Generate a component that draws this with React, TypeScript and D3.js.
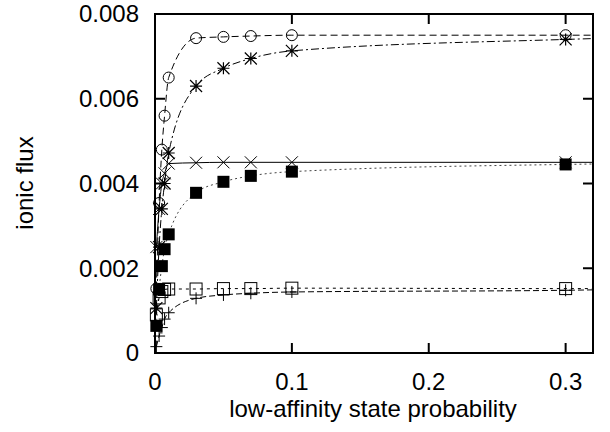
import React from "react";
import * as d3 from "d3";

const W = 610;
const H = 432;
const M = { left: 155, right: 593, top: 14, bottom: 353 };

const xValues = [0.001, 0.003, 0.005, 0.007, 0.01, 0.03, 0.05, 0.07, 0.1, 0.3];
const circleSeries = [0.00152, 0.00354, 0.0048, 0.0056, 0.0065, 0.00743, 0.00746, 0.00748, 0.0075, 0.0075];
const starSeries = [0.00106, 0.0025, 0.0034, 0.004, 0.00472, 0.0063, 0.00672, 0.00695, 0.00713, 0.0074];
const crossSeries = [0.0025, 0.0034, 0.004, 0.00424, 0.00447, 0.00449, 0.0045, 0.0045, 0.0045, 0.0045];
const filledSquareSeries = [0.00064, 0.0015, 0.00205, 0.00245, 0.0028, 0.00378, 0.00404, 0.00418, 0.00428, 0.00445];
const openSquareSeries = [0.0009, 0.0013, 0.00145, 0.0015, 0.00151, 0.00151, 0.00152, 0.00152, 0.00153, 0.00152];
const plusSeries = [0.00015, 0.0004, 0.0006, 0.0008, 0.00095, 0.00129, 0.00137, 0.00141, 0.00144, 0.00148];

// curve end values at the right edge of the frame
const curveEndX = 0.32;
const curveEnds = [0.0075, 0.00742, 0.0045, 0.00446, 0.00152, 0.00149];

const xTicks = [0, 0.1, 0.2, 0.3];
const xTickLabels = ["0", "0.1", "0.2", "0.3"];
const yTicks = [0, 0.002, 0.004, 0.006, 0.008];
const yTickLabels = ["0", "0.002", "0.004", "0.006", "0.008"];

const xScale = d3.scaleLinear().domain([0, 0.32]).range([M.left, M.right]);
const yScale = d3.scaleLinear().domain([0, 0.008]).range([M.bottom, M.top]);

type Marker = "circle" | "star" | "cross" | "fsquare" | "osquare" | "plus";

const seriesDefs: { values: number[]; marker: Marker; dash: string; color: string }[] = [
  { values: circleSeries, marker: "circle", dash: "7,4", color: "#000" },
  { values: starSeries, marker: "star", dash: "8,3,2,3", color: "#000" },
  { values: crossSeries, marker: "cross", dash: "", color: "#000" },
  { values: filledSquareSeries, marker: "fsquare", dash: "2,3", color: "#444" },
  { values: openSquareSeries, marker: "osquare", dash: "3,4", color: "#000" },
  { values: plusSeries, marker: "plus", dash: "6,3", color: "#000" },
];

const font = "'Liberation Sans', Arial, sans-serif";

function MarkerShape({ type, x, y }: { type: Marker; x: number; y: number }) {
  const s = 6;
  const sw = 1;
  switch (type) {
    case "circle":
      return <circle cx={x} cy={y} r={5.5} fill="none" stroke="#000" strokeWidth={sw} />;
    case "fsquare":
      return <rect x={x - 6} y={y - 6} width={12} height={12} fill="#000" />;
    case "osquare":
      return <rect x={x - 6} y={y - 6} width={12} height={12} fill="none" stroke="#000" strokeWidth={sw} />;
    case "cross":
      return (
        <path d={`M${x - s},${y - s}L${x + s},${y + s}M${x - s},${y + s}L${x + s},${y - s}`} stroke="#000" strokeWidth={sw} />
      );
    case "plus":
      return <path d={`M${x - s},${y}L${x + s},${y}M${x},${y - s}L${x},${y + s}`} stroke="#000" strokeWidth={sw} />;
    case "star":
      return (
        <path
          d={`M${x - s},${y}L${x + s},${y}M${x},${y - s}L${x},${y + s}M${x - s},${y - s}L${x + s},${y + s}M${x - s},${y + s}L${x + s},${y - s}`}
          stroke="#000"
          strokeWidth={1.2}
        />
      );
  }
  return null;
}

export default function App() {
  const line = d3
    .line<[number, number]>()
    .x((d) => xScale(d[0]))
    .y((d) => yScale(d[1]))
    .curve(d3.curveMonotoneX);

  const tickLen = 10;

  return (
    <svg width={W} height={H} style={{ position: "absolute", left: 0, top: 0 }} fontFamily={font}>
      <rect width={W} height={H} fill="#fff" />
      {seriesDefs.map((s, i) => {
        const pts: [number, number][] = xValues.map((x, j) => [x, s.values[j]]);
        pts.push([curveEndX, curveEnds[i]]);
        return (
          <path
            key={"l" + i}
            d={line(pts) || ""}
            fill="none"
            stroke={s.color}
            strokeWidth={1}
            strokeDasharray={s.dash || undefined}
          />
        );
      })}
      {seriesDefs.map((s, i) =>
        xValues.map((x, j) => (
          <MarkerShape key={`m${i}-${j}`} type={s.marker} x={xScale(x)} y={yScale(s.values[j])} />
        ))
      )}
      <rect
        x={M.left}
        y={M.top}
        width={M.right - M.left}
        height={M.bottom - M.top}
        fill="none"
        stroke="#000"
        strokeWidth={2}
      />
      {xTicks.map((t, i) => (
        <g key={"xt" + i}>
          <line x1={xScale(t)} x2={xScale(t)} y1={M.bottom} y2={M.bottom - tickLen} stroke="#000" strokeWidth={2} />
          <line x1={xScale(t)} x2={xScale(t)} y1={M.top} y2={M.top + tickLen} stroke="#000" strokeWidth={2} />
          <text x={xScale(t)} y={390} textAnchor="middle" fontSize={24} fill="#000">
            {xTickLabels[i]}
          </text>
        </g>
      ))}
      {yTicks.map((t, i) => (
        <g key={"yt" + i}>
          <line x1={M.left} x2={M.left + tickLen} y1={yScale(t)} y2={yScale(t)} stroke="#000" strokeWidth={2} />
          <line x1={M.right} x2={M.right - tickLen} y1={yScale(t)} y2={yScale(t)} stroke="#000" strokeWidth={2} />
          <text x={139} y={yScale(t)} dy="0.35em" textAnchor="end" fontSize={24} fill="#000">
            {yTickLabels[i]}
          </text>
        </g>
      ))}
      <text x={(M.left + M.right) / 2 - 1} y={417} textAnchor="middle" fontSize={24} fill="#000">
        low-affinity state probability
      </text>
      <text transform={`translate(33,183) rotate(-90)`} textAnchor="middle" fontSize={24} fill="#000">
        ionic flux
      </text>
    </svg>
  );
}
